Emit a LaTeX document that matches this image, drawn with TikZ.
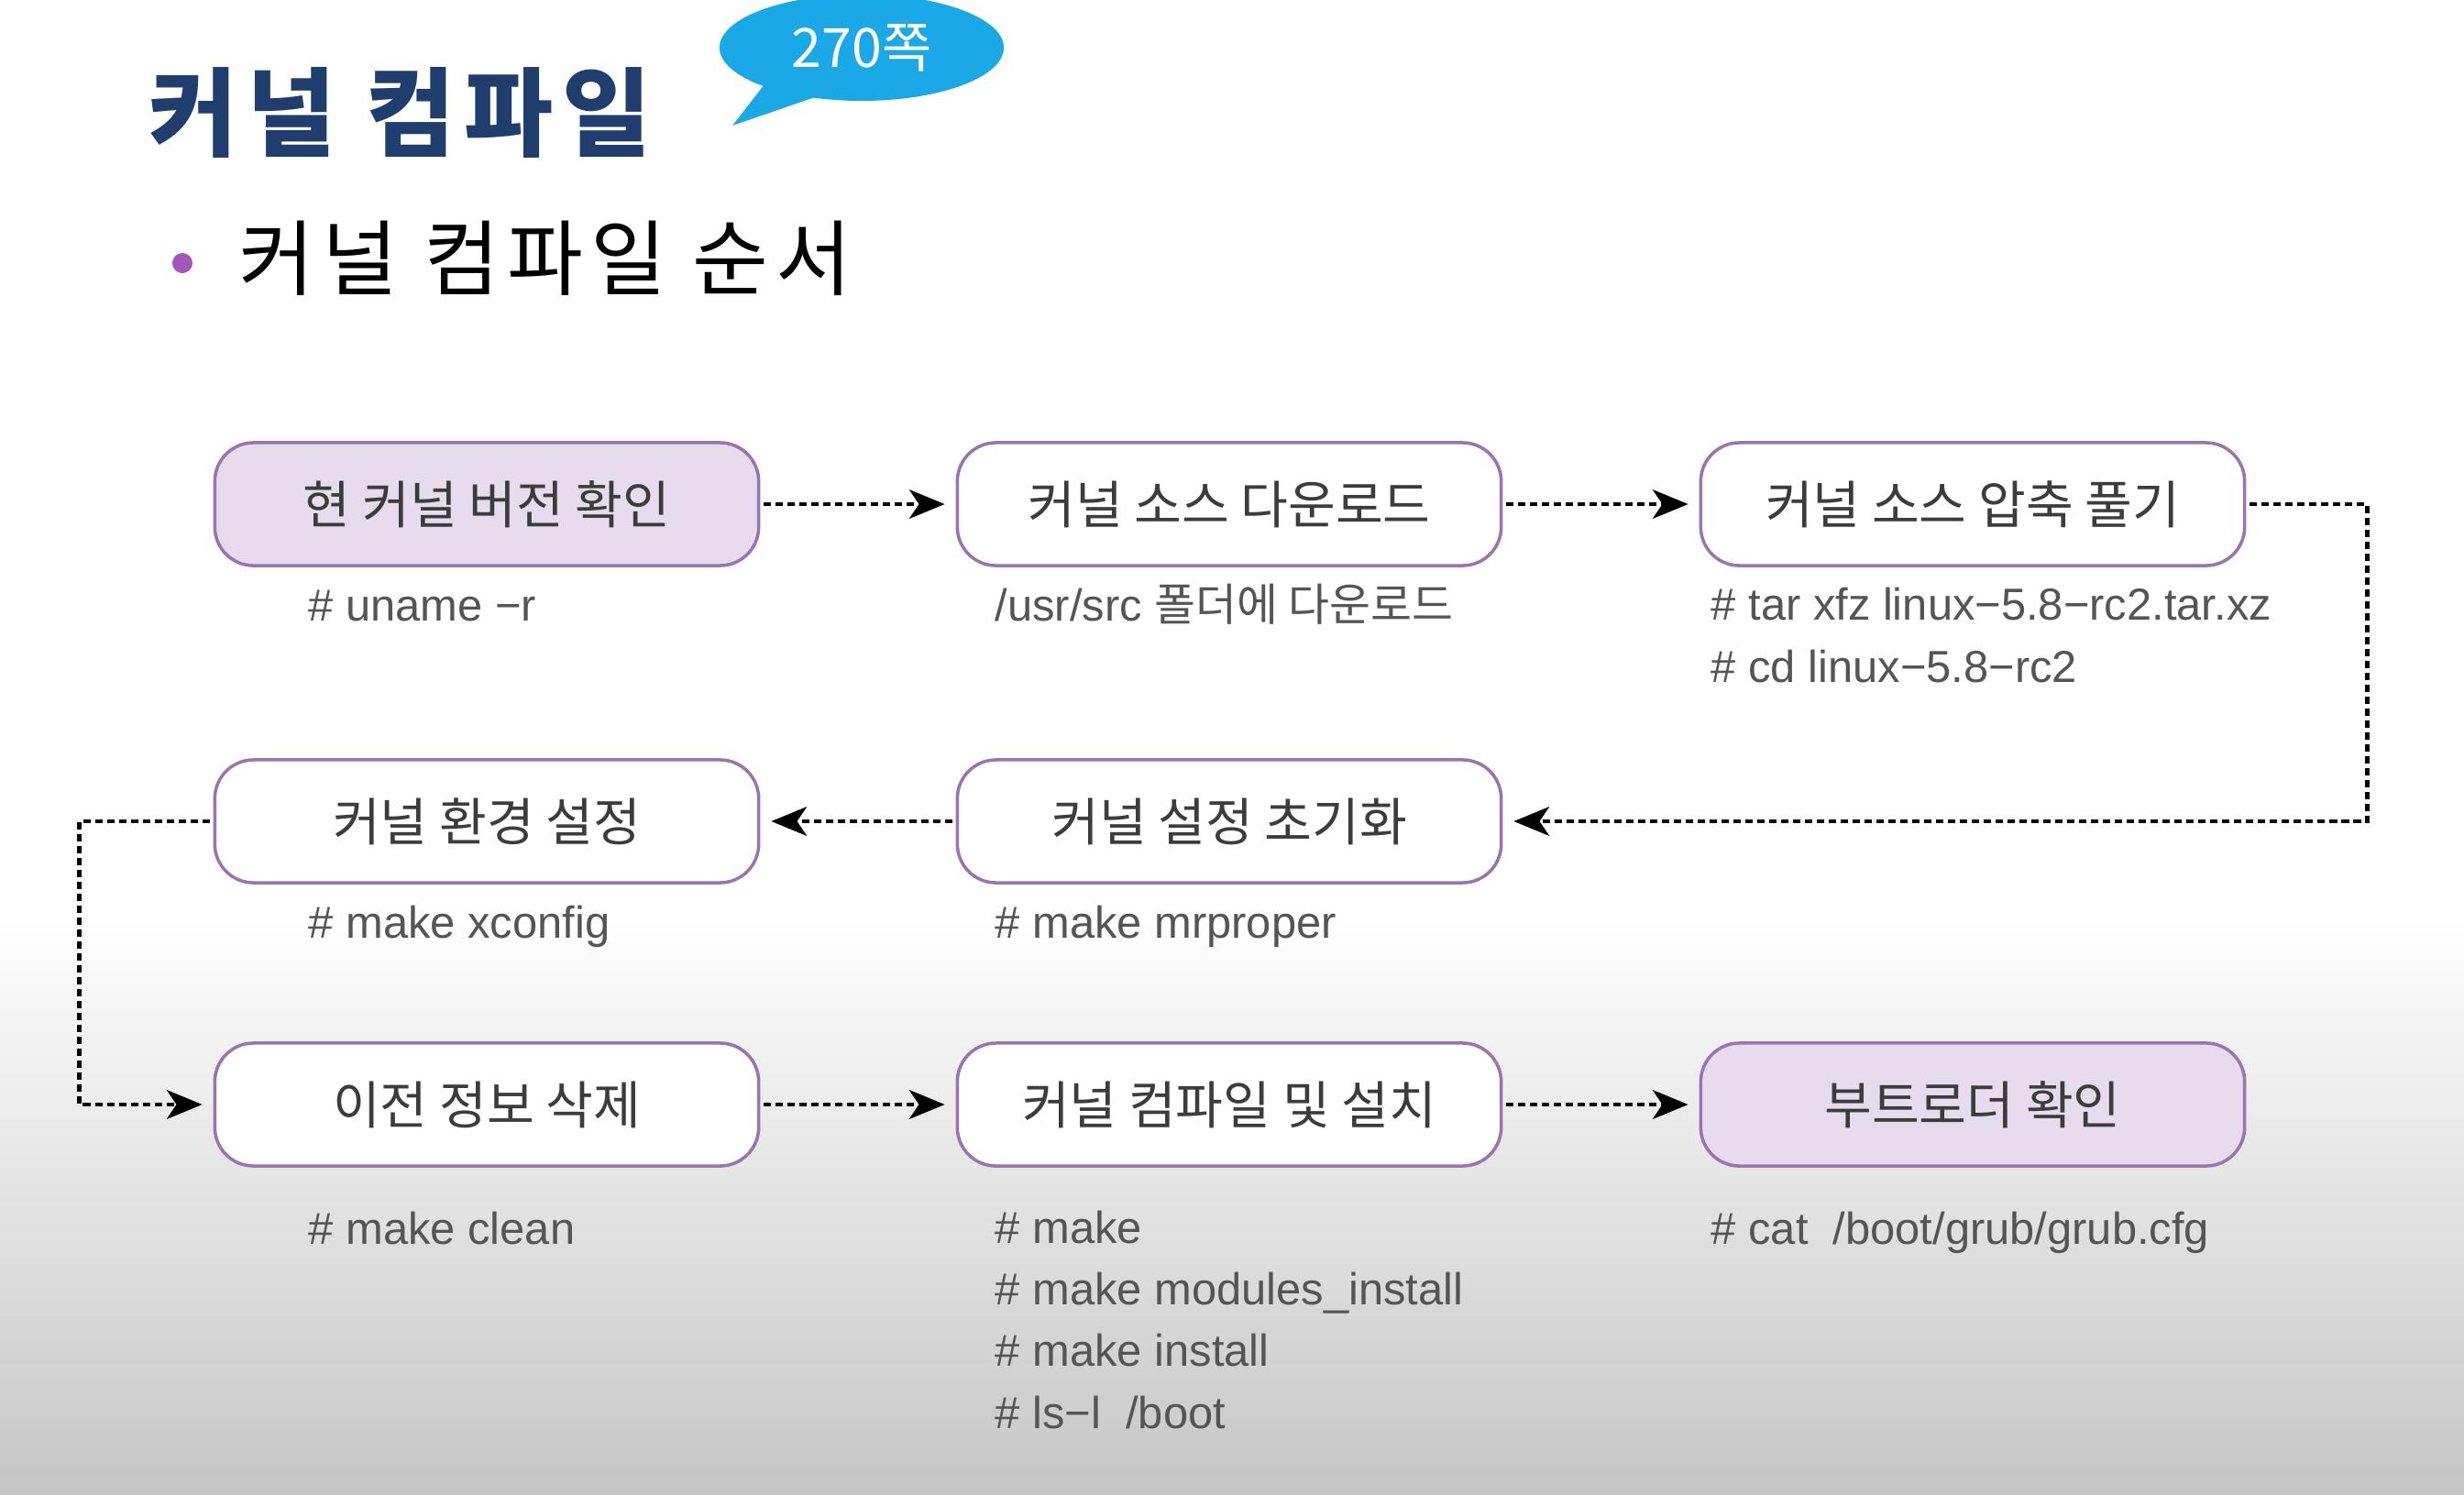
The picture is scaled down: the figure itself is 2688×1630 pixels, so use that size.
\documentclass[tikz,border=0pt]{standalone}
\usepackage{fontspec}
\setmainfont{Liberation Sans}
\newfontfamily\kr{Noto Sans CJK KR}
\usepackage{xcolor}
\usetikzlibrary{arrows.meta,shapes.callouts}
\definecolor{boxline}{HTML}{9A74B2}
\definecolor{boxfill}{HTML}{E7DCEE}
\definecolor{titleblue}{HTML}{1F3E6E}
\definecolor{bubble}{HTML}{1AA9E6}
\definecolor{dotpurple}{HTML}{A258B8}
\definecolor{cmdgray}{HTML}{555555}
\definecolor{stepgray}{HTML}{3C3C3C}
\definecolor{bggray}{HTML}{C6C6C6}

\begin{document}
\begin{tikzpicture}[x=0.01cm,y=-0.01cm,>={Stealth[length=11pt,width=9pt,inset=3pt]},
  stepbox/.style={draw=boxline,line width=1pt,rounded corners=12pt,fill=white,minimum width=5.93cm,minimum height=1.34cm,text=stepgray,font=\kr\fontsize{16}{19}\selectfont},
  stephi/.style={stepbox,fill=boxfill},
  cmd/.style={anchor=base west,inner sep=0pt,align=left,text=cmdgray,font=\fontsize{13.9}{19.06}\selectfont},
  flow/.style={->,line width=1.2pt,dash pattern=on 2.3pt off 1.4pt,shorten >=3.4pt,shorten <=1pt}]
\useasboundingbox (0,0) rectangle (2688,1630);
% background
\fill[white] (0,0) rectangle (2688,1000);
\shade[top color=white,bottom color=bggray] (0,1000) rectangle (2688,1630);
% heading
\node[anchor=west,inner sep=0pt,text=titleblue,font=\kr\bfseries\fontsize{30}{36}\selectfont\addfontfeature{LetterSpace=9}] (ttl) at (162,123) {커널 컴파일};
\node[ellipse callout,fill=bubble,minimum width=3.1cm,minimum height=1.16cm,inner sep=0pt,callout absolute pointer={(799,137)},callout pointer arc=24,text=white,font=\kr\fontsize{16.8}{20}\selectfont] (pg) at (940,52) {270쪽};
\node[circle,fill=dotpurple,minimum size=0.22cm,inner sep=0pt] (dot) at (199,287) {};
\node[anchor=west,inner sep=0pt,font=\kr\fontsize{25.6}{30}\selectfont\addfontfeature{LetterSpace=9}] (sub) at (260,282) {커널 컴파일 순서};
% steps
\node[stephi] (s0) at (531,550) {현 커널 버전 확인};
\node[stepbox] (s1) at (1341,550) {커널 소스 다운로드};
\node[stepbox] (s2) at (2152,550) {커널 소스 압축 풀기};
\node[stepbox] (s3) at (1341,896) {커널 설정 초기화};
\node[stepbox] (s4) at (531,896) {커널 환경 설정};
\node[stepbox] (s5) at (531,1205) {이전 정보 삭제};
\node[stepbox] (s6) at (1341,1205) {커널 컴파일 및 설치};
\node[stephi] (s7) at (2152,1205) {부트로더 확인};
% commands (base = last line)
\node[cmd] (c0) at (336,677) {\# uname −r};
\node[cmd] (c1) at (1085,677) {/usr/src {\kr 폴더에 다운로드}};
\node[cmd] (c2) at (1866,744) {\# tar xfz linux−5.8−rc2.tar.xz\\\# cd linux−5.8−rc2};
\node[cmd] (c3) at (1085,1023) {\# make mrproper};
\node[cmd] (c4) at (336,1023) {\# make xconfig};
\node[cmd] (c5) at (336,1357) {\# make clean};
\node[cmd] (c6) at (1085,1558) {\# make\\\# make modules\_install\\\# make install\\\# ls−l\ \ /boot};
\node[cmd] (c7) at (1866,1357) {\# cat\ \ /boot/grub/grub.cfg};
% flow
\draw[flow] (s0) -- (s1);
\draw[flow] (s1) -- (s2);
\draw[flow] (s2.east) -- ++(132,0) |- (s3.east);
\draw[flow] (s3) -- (s4);
\draw[flow] (s4.west) -- ++(-146,0) |- (s5.west);
\draw[flow] (s5) -- (s6);
\draw[flow] (s6) -- (s7);
\end{tikzpicture}
\end{document}
